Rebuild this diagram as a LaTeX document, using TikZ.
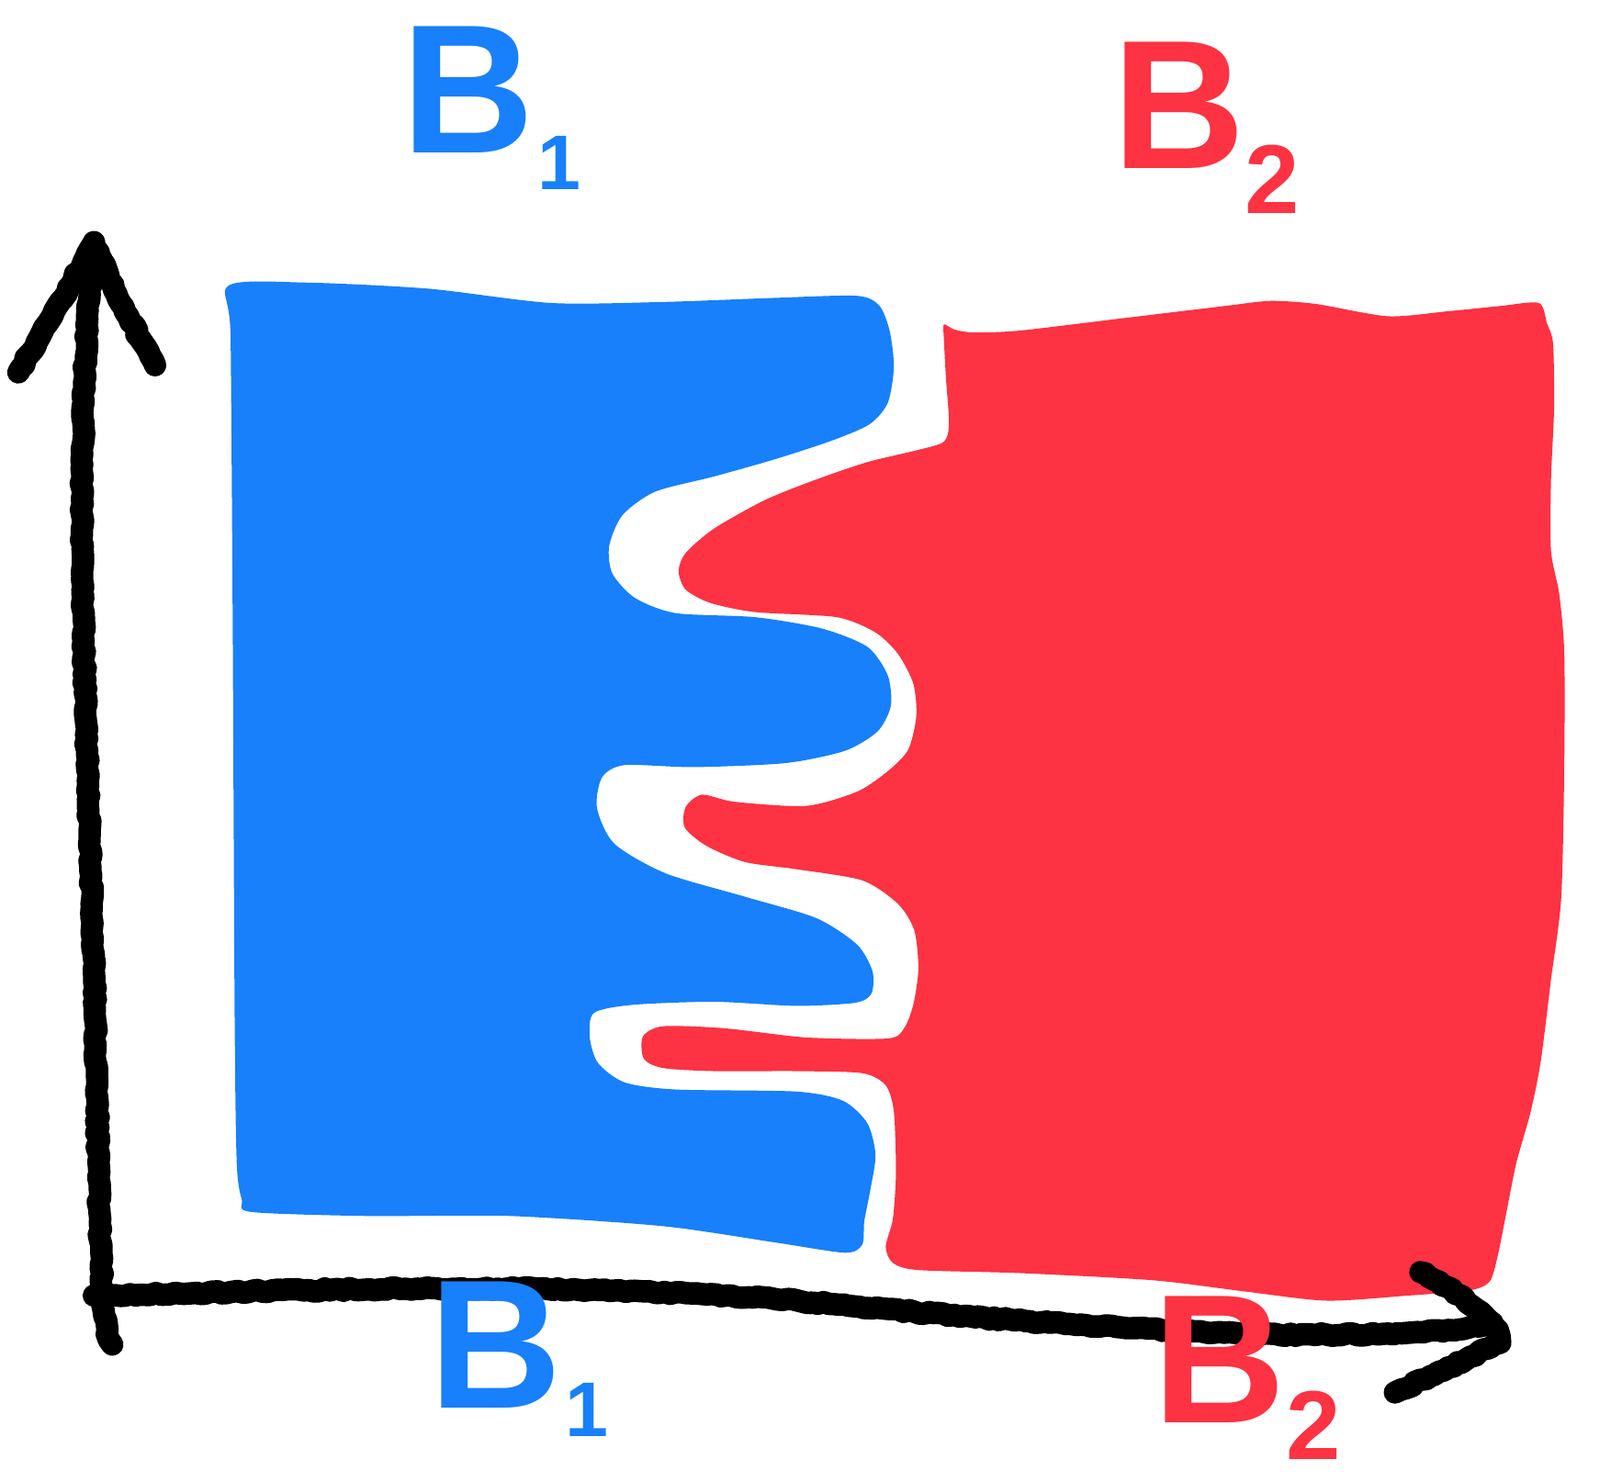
\documentclass[tikz,border=0pt]{standalone}
\usepackage{fontspec}
\setmainfont{Liberation Sans}
\usetikzlibrary{decorations.pathmorphing}
\definecolor{bblue}{RGB}{24,128,250}
\definecolor{rred}{RGB}{253,50,66}
\tikzset{
  crayon/.style={draw=black, line width=11pt, line cap=round, line join=round,
    decorate, decoration={random steps, segment length=2.5pt, amplitude=0.7pt}},
  lab/.style={inner sep=0pt, anchor=base west, font=\fontsize{90}{90}\selectfont\bfseries}
}
\begin{document}
\begin{tikzpicture}[x=0.5pt,y=-0.5pt]
\useasboundingbox (0,0) rectangle (1568,1452);
% blue region
\fill[bblue] plot[smooth cycle, tension=0.45] coordinates {
 (224,280) (300,277) (420,283) (540,297) (650,296) (760,292) (840,290)
 (862,300) (872,325) (876,360) (870,395) (852,416) (815,432) (760,450)
 (700,467) (642,482) (610,505) (597,535) (600,562) (622,586) (662,601)
 (740,605) (805,616) (850,634) (870,662) (873,692) (860,717) (828,736)
 (770,748) (680,752) (612,750) (590,762) (585,792) (602,827) (652,856)
 (730,879) (800,900) (840,926) (855,952) (854,974) (838,983) (780,986)
 (700,982) (620,985) (582,993) (578,1017) (586,1042) (612,1061) (662,1068)
 (780,1070) (826,1079) (850,1101) (858,1132) (853,1166) (847,1197)
 (845,1220) (828,1228) (760,1218) (650,1202) (500,1192) (360,1192)
 (246,1188) (237,1176) (232,1140) (230,1000) (228,600) (226,330)};
% red region
\fill[rred] plot[smooth cycle, tension=0.45] coordinates {
 (925,318) (935,323) (955,326) (1000,324) (1100,312) (1200,300) (1245,295)
 (1290,298) (1360,310) (1420,305) (1470,300) (1508,297) (1516,317)
 (1522,337) (1523,400) (1520,470) (1520,540) (1528,582) (1533,640)
 (1533,750) (1530,880) (1520,960) (1510,1040) (1500,1090) (1486,1140)
 (1476,1190) (1468,1230) (1460,1256) (1440,1265) (1380,1270) (1300,1275)
 (1220,1266) (1130,1255) (1000,1248) (900,1245) (875,1238) (868,1222)
 (875,1195) (878,1150) (876,1090) (868,1064) (845,1052) (780,1050)
 (700,1050) (650,1047) (631,1038) (630,1016) (650,1006) (710,1008)
 (790,1017) (870,1018) (886,1008) (895,985) (900,950) (896,912) (880,886)
 (845,863) (780,852) (730,845) (692,829) (671,811) (672,791) (688,779)
 (720,786) (790,790) (840,776) (870,756) (890,735) (898,702) (895,670)
 (880,641) (858,620) (820,605) (740,600) (696,591) (672,578) (665,560)
 (672,542) (700,518) (750,490) (800,470) (850,453) (900,441) (925,433)
 (930,415) (927,370) (925,332)};
% axes
\coordinate (ybot) at (110,1318);
\coordinate (ytip) at (92,238);
\coordinate (yl) at (18,365);
\coordinate (yr) at (152,358);
\coordinate (xstart) at (92,1270);
\coordinate (xtip) at (1462,1297);
\coordinate (xa) at (1392,1247);
\coordinate (xb) at (1468,1316);
\coordinate (xc) at (1367,1365);
\path[crayon] (ybot) .. controls (95,1300) and (98,1150) .. (92,950)
  .. controls (85,700) and (70,450) .. (ytip);
\path[crayon] (yl) .. controls (45,320) and (75,270) .. (ytip)
  .. controls (110,280) and (130,320) .. (yr);
\path[crayon] (xstart) .. controls (400,1262) and (600,1255) .. (850,1282)
  .. controls (1100,1305) and (1350,1320) .. (xtip);
\path[crayon] (xa) .. controls (1420,1262) and (1440,1275) .. (xtip)
  .. controls (1468,1302) and (1472,1310) .. (xb) .. controls (1440,1332) and (1400,1350) .. (xc);
% labels
\node[lab, text=bblue] (b1top) at (393,150) {B\hspace{2pt}\raisebox{-18pt}{\fontsize{38}{38}\selectfont 1}};
\node[lab, text=rred] (b2top) at (1090,165) {B\raisebox{-22pt}{\fontsize{48}{48}\selectfont 2}};
\node[lab, text=bblue] (b1bot) at (420,1380) {B\hspace{2pt}\raisebox{-14pt}{\fontsize{38}{38}\selectfont 1}};
\node[lab, text=rred] (b2bot) at (1130,1395) {B\raisebox{-18pt}{\fontsize{48}{48}\selectfont 2}};
\end{tikzpicture}
\end{document}
